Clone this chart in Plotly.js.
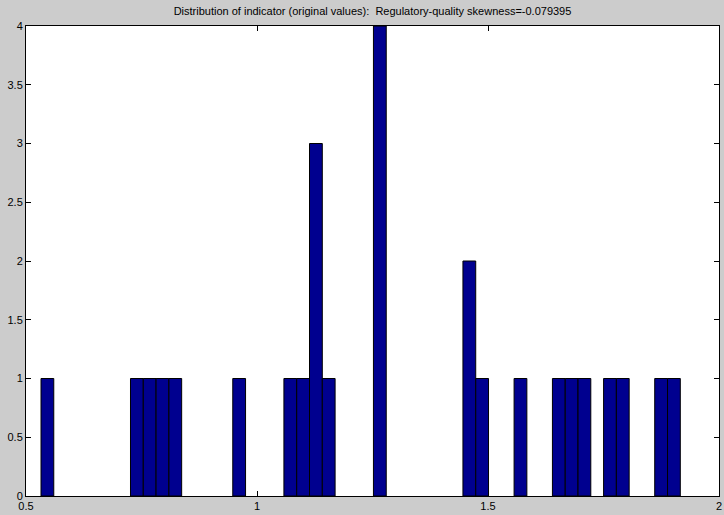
<!DOCTYPE html>
<html>
<head>
<meta charset="utf-8">
<script src="https://cdn.plot.ly/plotly-3.0.1.min.js"></script>
<style>
  html, body { margin: 0; padding: 0; background: #cccccc; }
  #chart { width: 724px; height: 515px; }
</style>
</head>
<body>
<div id="chart"></div>
<script>
// Histogram of the regulatory-quality indicator (50 equal bins, only non-empty bins listed)
const binCenters = [0.5463, 0.7400, 0.7677, 0.7954, 0.8231, 0.9614,
                    1.0721, 1.0998, 1.1275, 1.1552, 1.2659,
                    1.4596, 1.4873, 1.5703, 1.6533, 1.6810, 1.7087,
                    1.7640, 1.7917, 1.8747, 1.9024];
const binCounts  = [1, 1, 1, 1, 1, 1,
                    1, 1, 3, 1, 4,
                    2, 1, 1, 1, 1, 1,
                    1, 1, 1, 1];
const binWidth = 0.027675;

const xTicks = [0.5, 1, 1.5, 2];
const xTickText = ['0.5', '1', '1.5', '2'];
const yTicks = [0, 0.5, 1, 1.5, 2, 2.5, 3, 3.5, 4];
const yTickText = ['0', '0.5', '1', '1.5', '2', '2.5', '3', '3.5', '4'];

const trace = {
  type: 'bar',
  x: binCenters,
  y: binCounts,
  width: binCenters.map(() => binWidth),
  marker: { color: '#00008f', line: { color: '#000000', width: 1 } },
  hoverinfo: 'x+y'
};

const axisCommon = {
  showgrid: false,
  zeroline: false,
  showline: true,
  linecolor: '#000000',
  linewidth: 1,
  mirror: 'allticks',
  ticks: 'inside',
  ticklen: 5,
  tickcolor: '#000000',
  tickfont: { family: 'Liberation Sans, Arial, sans-serif', size: 11, color: '#000000' },
  tickmode: 'array'
};

const layout = {
  width: 724,
  height: 515,
  margin: { l: 26, r: 5, t: 26, b: 19 },
  paper_bgcolor: '#cccccc',
  plot_bgcolor: '#ffffff',
  showlegend: false,
  bargap: 0,
  title: {
    text: 'Distribution of indicator (original values):  Regulatory-quality skewness=-0.079395',
    font: { family: 'Liberation Sans, Arial, sans-serif', size: 11, color: '#000000' },
    x: 0.5, xref: 'paper', y: 1, yref: 'container', yanchor: 'top', pad: { t: 7 }
  },
  xaxis: Object.assign({}, axisCommon, {
    range: [0.5, 2], tickvals: xTicks, ticktext: xTickText, ticklabelstandoff: 0
  }),
  yaxis: Object.assign({}, axisCommon, {
    range: [0, 4], tickvals: yTicks, ticktext: yTickText
  })
};

Plotly.newPlot('chart', [trace], layout, { displayModeBar: false, staticPlot: true });
</script>
</body>
</html>
